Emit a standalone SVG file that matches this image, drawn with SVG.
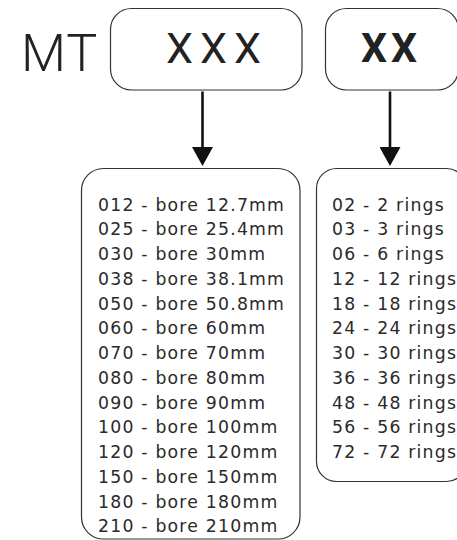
<svg xmlns="http://www.w3.org/2000/svg" width="457" height="540" viewBox="0 0 457 540">
  <style>
    .box { fill: #fff; stroke: #333; stroke-width: 1.2; }
    .list { font-family: "DejaVu Sans", Roboto, sans-serif; font-size: 17.3px; fill: #2a2a2a; letter-spacing: 1.2px; }
    .conn { stroke: #111; stroke-width: 2.6; fill: none; }
    .big { font-family: Roboto, "Liberation Sans", sans-serif; fill: #222; }
  </style>
  <defs>
    <marker id="arrow" markerUnits="userSpaceOnUse" markerWidth="19" markerHeight="21" viewBox="0 0 19 21" refX="3" refY="10.5" orient="auto">
      <path d="M0,0 L19,10.5 L0,21 Z" fill="#111"/>
    </marker>
  </defs>

  <g id="prefix">
    <text class="big" x="21" y="71" font-size="52" font-weight="300" letter-spacing="1">MT</text>
  </g>

  <g id="node-xxx">
    <rect class="box" x="110.5" y="8.5" width="191.5" height="81.5" rx="21" ry="21"/>
    <text class="big" x="166" y="63" font-size="43" letter-spacing="7">XXX</text>
  </g>

  <g id="node-xx">
    <rect class="box" x="325.5" y="8.5" width="133" height="81.5" rx="21" ry="21"/>
    <text class="big" x="361" y="62" font-size="41" font-weight="bold" letter-spacing="4">XX</text>
  </g>

  <g id="connectors">
    <line class="conn" x1="202.5" y1="91.5" x2="202.5" y2="150" marker-end="url(#arrow)"/>
    <line class="conn" x1="390" y1="91.5" x2="390" y2="150" marker-end="url(#arrow)"/>
  </g>

  <g id="node-bore">
    <rect class="box" x="81.5" y="168.5" width="218.5" height="370.5" rx="22" ry="22"/>
    <text class="list" x="98" y="210.7">012 - bore 12.7mm</text>
    <text class="list" x="98" y="235.45">025 - bore 25.4mm</text>
    <text class="list" x="98" y="260.2">030 - bore 30mm</text>
    <text class="list" x="98" y="284.95">038 - bore 38.1mm</text>
    <text class="list" x="98" y="309.7">050 - bore 50.8mm</text>
    <text class="list" x="98" y="334.45">060 - bore 60mm</text>
    <text class="list" x="98" y="359.2">070 - bore 70mm</text>
    <text class="list" x="98" y="383.95">080 - bore 80mm</text>
    <text class="list" x="98" y="408.7">090 - bore 90mm</text>
    <text class="list" x="98" y="433.45">100 - bore 100mm</text>
    <text class="list" x="98" y="458.2">120 - bore 120mm</text>
    <text class="list" x="98" y="482.95">150 - bore 150mm</text>
    <text class="list" x="98" y="507.7">180 - bore 180mm</text>
    <text class="list" x="98" y="532.45">210 - bore 210mm</text>
  </g>

  <g id="node-rings">
    <rect class="box" x="316.5" y="168.5" width="150" height="313" rx="20" ry="20"/>
    <text class="list" x="332" y="210.7">02 - 2 rings</text>
    <text class="list" x="332" y="235.45">03 - 3 rings</text>
    <text class="list" x="332" y="260.2">06 - 6 rings</text>
    <text class="list" x="332" y="284.95">12 - 12 rings</text>
    <text class="list" x="332" y="309.7">18 - 18 rings</text>
    <text class="list" x="332" y="334.45">24 - 24 rings</text>
    <text class="list" x="332" y="359.2">30 - 30 rings</text>
    <text class="list" x="332" y="383.95">36 - 36 rings</text>
    <text class="list" x="332" y="408.7">48 - 48 rings</text>
    <text class="list" x="332" y="433.45">56 - 56 rings</text>
    <text class="list" x="332" y="458.2">72 - 72 rings</text>
  </g>
</svg>
